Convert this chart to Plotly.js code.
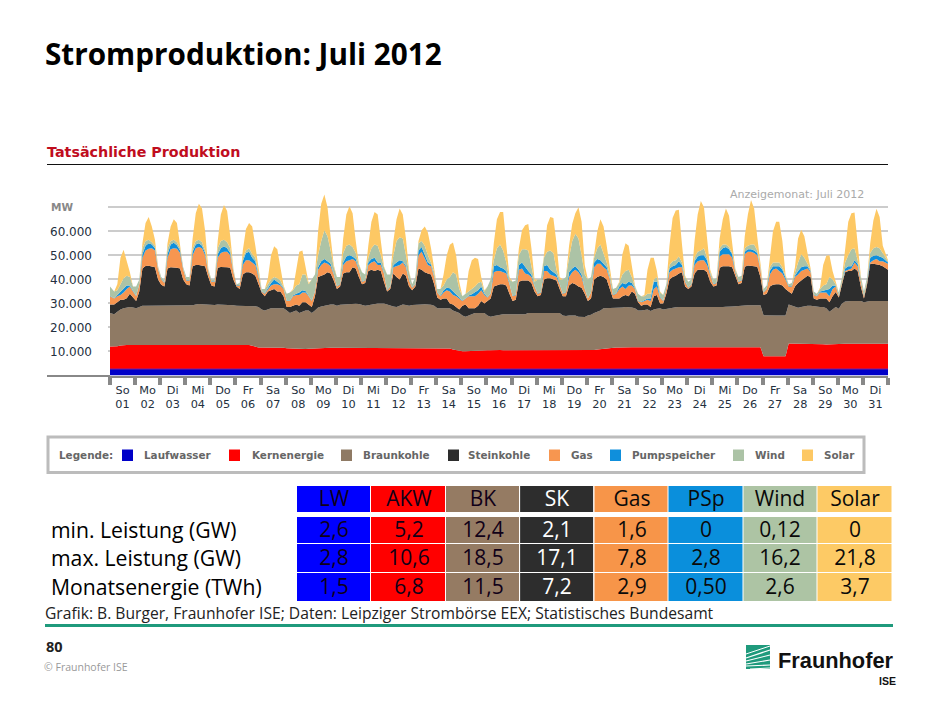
<!DOCTYPE html>
<html><head><meta charset="utf-8">
<script src="https://cdn.plot.ly/plotly-3.0.1.min.js"></script>
<style>html,body{margin:0;padding:0;background:#fff}#c{width:933px;height:702px}</style>
</head><body><div id="c"></div>
<script>
// Upper edge of each source in the stack, GW, read at 01,04,07,10,13,16,19,22 h for each of the 31 days
const topLW=[
2.7,2.7,2.7,2.7,2.7,2.7,2.7,2.7, 2.7,2.7,2.7,2.7,2.7,2.7,2.7,2.7, 2.7,2.7,2.7,2.7,2.7,2.7,2.7,2.7, 2.7,2.7,2.7,2.8,2.8,2.7,2.7,2.7, 2.7,2.7,2.7,2.7,2.7,2.7,2.7,2.7,
2.7,2.7,2.7,2.7,2.7,2.7,2.7,2.7, 2.7,2.7,2.7,2.7,2.7,2.7,2.7,2.7, 2.7,2.7,2.7,2.7,2.7,2.7,2.7,2.7, 2.7,2.7,2.7,2.7,2.7,2.7,2.7,2.7, 2.7,2.7,2.7,2.7,2.7,2.7,2.7,2.7,
2.7,2.7,2.7,2.7,2.7,2.7,2.7,2.7, 2.7,2.7,2.7,2.7,2.7,2.7,2.7,2.7, 2.7,2.7,2.7,2.7,2.7,2.7,2.7,2.7, 2.7,2.7,2.7,2.7,2.7,2.7,2.7,2.7, 2.6,2.6,2.7,2.7,2.7,2.7,2.7,2.7,
2.7,2.7,2.7,2.7,2.7,2.7,2.7,2.7, 2.7,2.7,2.7,2.7,2.7,2.7,2.7,2.7, 2.7,2.7,2.7,2.7,2.7,2.7,2.7,2.7, 2.7,2.7,2.7,2.7,2.7,2.7,2.7,2.7, 2.7,2.7,2.7,2.7,2.7,2.7,2.7,2.7,
2.7,2.7,2.7,2.7,2.7,2.7,2.7,2.7, 2.7,2.7,2.7,2.7,2.7,2.7,2.7,2.7, 2.7,2.7,2.7,2.7,2.7,2.7,2.7,2.7, 2.7,2.7,2.7,2.7,2.7,2.7,2.7,2.7, 2.7,2.7,2.7,2.7,2.7,2.7,2.7,2.7,
2.7,2.7,2.7,2.7,2.7,2.7,2.7,2.7, 2.7,2.7,2.7,2.7,2.7,2.7,2.7,2.7, 2.7,2.7,2.7,2.7,2.7,2.7,2.7,2.7, 2.7,2.7,2.7,2.7,2.7,2.7,2.7,2.7, 2.7,2.7,2.7,2.7,2.7,2.7,2.7,2.7,
2.7,2.7,2.7,2.7,2.7,2.7,2.7,2.7];
const topAKW=[
12.1,12.1,12.2,12.5,12.7,12.7,12.7,12.7, 12.7,12.8,12.8,12.9,12.9,12.9,12.8,12.8, 12.7,12.7,12.7,12.7,12.7,12.7,12.7,12.7, 12.7,12.7,12.7,12.7,12.7,12.7,12.7,12.7, 12.7,12.7,12.7,12.7,12.7,12.7,12.7,12.7,
12.7,12.7,12.7,12.7,12.7,12.4,11.9,11.7, 11.7,11.7,11.6,11.6,11.5,11.6,11.6,11.5, 11.3,11.2,11.2,11.1,10.9,11.0,11.0,11.1, 11.2,11.2,11.2,11.3,11.4,11.5,11.5,11.5, 11.5,11.5,11.5,11.5,11.5,11.5,11.5,11.5,
11.5,11.5,11.5,11.5,11.5,11.5,11.5,11.5, 11.5,11.4,11.4,11.4,11.5,11.5,11.5,11.4, 11.5,11.5,11.4,11.5,11.5,11.5,11.5,11.5, 11.5,11.5,11.5,11.5,11.2,10.8,10.5,10.4, 10.1,10.1,10.2,10.3,10.4,10.4,10.4,10.4,
10.5,10.5,10.6,10.6,10.6,10.5,10.5,10.5, 10.4,10.5,10.5,10.6,10.6,10.6,10.6,10.6, 10.5,10.5,10.5,10.5,10.5,10.5,10.5,10.5, 10.5,10.5,10.5,10.5,10.5,10.5,10.5,10.5, 10.5,10.5,10.6,10.8,11.0,11.2,11.4,11.5,
11.6,11.7,11.7,11.8,11.8,11.8,11.8,11.8, 11.8,11.8,11.7,11.7,11.8,11.8,11.8,11.8, 11.8,11.8,11.8,11.8,11.8,11.8,11.8,11.8, 11.8,11.7,11.7,11.7,11.7,11.7,11.7,11.7, 11.7,11.8,11.8,11.8,11.8,11.8,11.8,11.8,
11.8,11.8,11.8,11.8,11.8,11.8,11.8,11.8, 8.0,8.0,8.0,8.0,8.0,8.0,8.0,8.0, 13.3,13.3,13.3,13.3,13.3,13.3,13.3,13.3, 13.3,13.3,13.2,13.0,12.9,13.0,13.1,13.2, 13.2,13.2,13.2,13.2,13.2,13.2,13.2,13.2,
13.2,13.2,13.2,13.2,13.2,13.2,13.2,13.2];
const topBK=[
26,25.5,26.5,27.5,28,28.3,28.5,28.3, 28,28.5,29,29,29,29,29,29, 29,29,29,29,29,29,29,29, 29,29,29.2,29.5,29.8,29.7,29.6,29.5, 29.2,29.3,29.5,29.5,29.5,29.5,29.4,29.2,
29,29,29,29,29,29,28.8,28.5, 27.5,27,27.5,28,28,28,28,28, 27,26,26.5,27,26,26.5,27,27, 26,27,28.3,28.7,29,29.3,29.5,29.5, 29,29.4,29.5,29.8,30,30,29.9,29.8,
29.3,29,29.2,29.5,29.7,30,30,30, 29.5,29,28.7,28.5,29,29.5,29.3,29, 29.3,29.3,29.4,29.5,29.7,29.7,29.4,29, 28,28,28,28,28,27,26.5,26, 25,24.5,25,25.5,26,26,26,26,
25,24.5,24.8,25,25.5,25.5,25.5,25.5, 25.5,25.3,25.4,25.5,25.5,26,26,26, 26,26.2,26.2,26.2,26.3,26.3,26.2,26, 25,24.8,25,25,25,24.5,24.4,24.3, 25,25.3,26,26.5,27,28,28,28,
28.3,28.3,28.3,28.3,28.5,28.5,28.3,28, 27,27,27.3,27.5,26.8,27.5,27.8,28, 27.5,27.8,28.1,28.3,28.4,28.5,28.5,28.5, 28.5,28.4,28.3,28.3,28.3,28.2,28.2,28.3, 28.5,28.5,28.5,28.5,28.6,28.5,28.7,28.8,
29,29,29.1,29.2,29.2,29.2,29.2,29.2, 25.1,25,25,25,25,25,25,25, 29.5,29,28.5,28.2,28.5,28.8,29,29, 28.8,28.5,28.5,28.5,28,26.5,27.5,28.5, 27.8,30,30.8,31,31,31,31,31,
30.5,30.8,31,31,31,31,31,31];
const topSK=[
29.5,29.5,30.5,31.5,31.5,32.2,34,32.5, 31,35,44.5,45.6,45.7,45.4,45,40, 37.8,37,44.5,45,45,44.8,44.5,40, 38,37.5,45.5,46,46,45.8,45.5,41, 37.5,37,44.8,45.2,45.2,45,44.8,40,
37,36,42,43,43,42.5,41.5,38, 34.5,33,35,35.5,36,35,35,33, 28.5,28.5,29,29.5,29,30.5,30.5,29.5, 28.5,33,41,41.5,42,43,42.5,39.5, 36,37,42.5,43,43,45,44.5,41,
38,38.5,43.5,44,43.5,44,43.5,39, 35,36,42.5,41,40,42.5,41.5,37, 35.5,37,44.5,44,43,42.5,42,38, 32.5,31.5,32,32,30,29.5,28.5,27.5, 29,29.5,28,28,28,29,31,30,
31,32,37,37.5,38,38,37.5,34, 31,31.5,39,39.5,39.5,39.5,38.5,35, 33,33.5,40,40.5,40.5,40,39.5,36, 33,33,37.5,38.5,38,37,36.5,34, 31,32,40,41,41.5,41,40,36,
32,32,32,33,33.5,33,35,34, 30.5,29,29.5,29.5,28.5,33,33.5,30, 30,34,40,41,41.5,42.5,43,37, 36,37,42.5,44,44,44,43,39, 37,37.5,44.8,45.5,45.5,45.5,45,41,
38,38.5,45.3,45.8,45.8,45.5,45.3,41, 33.5,34,37,37.8,38,38,37.5,36, 35,34,37,38.5,39.5,40.5,41.5,41, 32,31.5,32,32,32,30.5,33,34.7, 32.5,38,43,43.5,43.5,44.5,43.5,37,
32,38,46.5,46.5,46.3,46,45.5,44];
const topGas=[
33,32,33,33.5,34.5,36,37,35, 33,38,49,52,52.8,53,52,44, 40,38.5,49,52.5,53,52.8,51,44, 39.5,39.5,50,53,53.5,53,50,43, 39,39,49,51,51.5,51.5,50,43,
37.5,37.5,46,48,48,47,46,41, 35,34,36,37.5,38,38,37.5,36, 31,31,33,33.5,33.5,34.5,34.5,33, 31,35,44,46,47,46.5,45.5,42, 37,38,46,47.5,48,48.5,47.5,44,
39,39.5,46,47,47.5,46,46,42.5, 35.5,37,45,45.5,46,47,45,39.5, 36.5,38,50,51.5,49,46,45.5,41, 34.5,33,34.5,35.5,35,33.5,33,32, 31,32,33,33,33,34,35.5,33.5,
32.5,34,43,43.5,43.5,43,42.5,38, 33,33.5,44,44.5,42.5,42,41,37, 34,34.5,43.5,43.5,42,41.5,41,38, 34,34.5,41,43,44,43,41,36, 32,34.5,45,46.5,46.5,45,44,40,
33.5,34,36,37,36,37.5,37.5,36, 31,30.5,31,31.5,31,36,37,32.5, 31,36,43,44,44.5,45,45,39, 36.5,38,46,47.5,48,48,46,42, 38,38.5,49.5,50.5,50.5,50.5,49,43,
39,39.5,50.5,51.5,51.5,51,50,44, 34.5,36,42,44,44.5,43.5,42.5,40, 37,37,41,42,43.5,44,44.5,43, 33.5,33,34.5,34.5,34.5,33,36,37, 33,39,43.5,44,44.5,47,45.5,39,
33,39,47,48,48.5,47.5,47.5,46.5];
const topPSp=[
33.2,32.2,33.5,34.8,36,37.5,37.5,35.2, 33.2,38.2,50.5,54,55,54.5,53,44.2, 40.2,38.7,50.5,54.5,55.2,54.2,52,44.2, 39.7,39.7,51.5,54.5,55,54,51,43.2, 39.2,39.2,50.5,53,53.8,53,51,43.2,
37.7,37.7,47.5,51,51.5,49,47.5,41.5, 35.2,34.2,36.5,38.5,40,39,38,36.3, 31.2,31.2,33.3,34,34.5,35.5,35.2,33.2, 31.2,35.2,45,47.5,48.5,47.5,46.5,42.3, 37.2,38.2,47,49.5,50,49.5,48.5,44.3,
39.2,39.7,47,48.5,49,47,47,42.8, 35.7,37.2,46,47,48,47.5,45.7,39.8, 36.7,38.2,52,53.5,50.5,47,46.2,41.3, 34.7,33.2,35.5,36.5,36.3,35,34,32.3, 31.2,32.2,33.3,33.8,34.5,35.5,37,34,
32.7,34.2,45.5,46,45,44.5,43.5,38.3, 33.2,33.7,46,47,45,43.5,42,37.3, 34.2,34.7,45.5,46,44,43,42,38.3, 34.2,34.7,43,44.5,45.5,44,42,36.3, 32.2,34.7,47,48.5,48,46.5,45,40.3,
33.7,34.2,37,38.5,38,39,38.5,36.3, 31.2,30.7,31.2,32,32,39,39,32.8, 31.2,36.2,44.5,45.5,46,47.5,46,39.3, 36.7,38.2,47.5,49.5,50,50,48,42.3, 38.2,38.7,51.5,53,53.5,52.5,50.5,43.3,
39.2,39.7,51.5,52.5,52.5,52,51,44.3, 34.7,36.2,43.5,45.5,45.5,45.5,44,40.3, 37.2,37.2,41.5,43.5,45,45.5,45.5,43.3, 33.7,33.2,35,35.3,35.5,36,37.5,37.3, 33.2,39.2,44.5,45.5,45.5,48,46.5,39.3,
33.2,39.2,49,49.8,50,49.5,49,47];
const topWind=[
37,35,35.5,38,40.5,41.5,41,37, 37,40,53,56,56.5,55.5,54,45, 41,39.5,53,56,56.5,55.5,53,45, 41,41,53,56,56.5,55.5,52,44, 40,40,53,56,56.5,55.5,53,44,
38,38.5,49,52,53,50.5,49,43, 36,36,38,40,41,40.5,39.5,37, 34,34.5,35.5,37.5,38,42,42,38, 40,42,50,56,60.5,58,52,45, 41,41,51,54,54.5,53.5,51,46,
43,42,49,53,54.5,54,50,45, 42,42,50,56,57.5,57,50,43, 38,41,55,56,54,50,47,43, 36,36,37.5,40,41,43,42,36, 33,34,35,36,37,38.5,39,35,
37,40,48,53,54.5,52,47,40, 39,39.5,50,52.5,52.5,52,45,39, 40,40,49,51.5,52,51,44,40, 40,41,49,56,59,57,50,42, 40,41,49,53,54.5,51,47,42,
36,36.5,38.5,42,43.5,44,41,37, 34,33,33,34,34,40,41,34.5, 33.5,38,46,47.5,48,49.5,47,41, 39,40,49,51.5,52,53,49,43, 40,40.5,53,54.5,54.5,53.5,51,44,
41,41.5,53,54,54.5,54.5,52,45, 36,37.5,45,47,47,47,45,41.5, 38,38.5,43,47,50.5,49,46.5,44, 35,34,36,37.5,38,41,40,38, 34.5,41,47,50,52.5,53,48,41,
35,41,51,53,53.5,53,51,47.5];
const topSolar=[
37,35,38,49,52.3,47.5,43,37, 37,40,55,63.5,66,62,56.5,45.5, 41,39.5,55,62,65,63.5,55,45, 41,41,57,67.5,71.5,69.5,60,44.5, 40,40,56,67,71,68.5,58,44.5,
38,38.5,52,61,63.5,62,54,44, 36,36,40.5,50,53.8,52.5,44.5,37.5, 34,34.5,36,44,51.5,52,45.5,38.5, 40,42,60,71.5,75.3,70,57.5,46, 41,41,57,67,70.4,67.5,56,46.5,
43,42,54,64,68,67,56,45.5, 42,42,56,65,69.5,67,57,43.5, 38,41,56,60.5,62,59.5,53,43.5, 36,36,42,50,54.4,55.4,50,39, 33,34,43.5,48,49,48.5,41,35.5,
37,40,55,65,68,68,55,41, 39,39.5,53,60.5,62.5,63,53,40, 40,40,50,62.5,66,65.5,55,41, 40,41,54,63,67.5,70,64,46, 40,41,50.5,60,65,62,54,44,
36,36.5,39,50.5,55,54,45,37.5, 34,33,33.5,44,49,49,43.5,35, 33.5,38,54,65.5,68.7,69,54.5,41.5, 39,40,56,67,72.6,70,57,44, 40,40.5,57,65,69.5,66.5,55,44.5,
41,41.5,58,67,73,69.5,57.5,45.5, 36,37.5,49,60,64,64,56,42, 38,38.5,45,57,60.7,58,51,44.5, 35,34,36.5,46,49.8,50,43.5,38.5, 34.5,41,54,64,67.5,67.8,54.8,41.5,
35,41,55,64.5,69.4,66,54,48];

const weekdays=["So","Mo","Di","Mi","Do","Fr","Sa","So","Mo","Di","Mi","Do","Fr","Sa","So","Mo","Di","Mi","Do","Fr","Sa","So","Mo","Di","Mi","Do","Fr","Sa","So","Mo","Di"];
const dayNumbers=["01","02","03","04","05","06","07","08","09","10","11","12","13","14","15","16","17","18","19","20","21","22","23","24","25","26","27","28","29","30","31"];
const sampleHours=[1,4,7,10,13,16,19,22];
const yTickValues=[10,20,30,40,50,60,70];
const yTickLabels=["10.000","20.000","30.000","40.000","50.000","60.000",""];

const sourceNames=["Laufwasser","Kernenergie","Braunkohle","Steinkohle","Gas","Pumpspeicher","Wind","Solar"];
const sourceColors=["#0000c8","#ff0000","#8f7a64","#2d2d2d","#f79650","#0f8fdc","#acc3a6","#fdc864"];
const tableColors=["#0000ff","#ff0000","#957b63","#2d2d2d","#f79549","#0a8fdc","#adc4a4","#fdca65"];
const shortNames=["LW","AKW","BK","SK","Gas","PSp","Wind","Solar"];
const minPower=["2,6","5,2","12,4","2,1","1,6","0","0,12","0"];
const maxPower=["2,8","10,6","18,5","17,1","7,8","2,8","16,2","21,8"];
const monthlyEnergy=["1,5","6,8","11,5","7,2","2,9","0,50","2,6","3,7"];
const rowLabels=["min. Leistung (GW)","max. Leistung (GW)","Monatsenergie (TWh)"];

// legend layout, page pixels
const legendSwatchX=[122,229,341,448,549,610,733,802];
const legendLabelX=[144,251.5,362.5,468.5,571,632,755,824];

const px=x=>x/933, py=y=>1-y/702;
const x=[];
for(let d=0;d<31;d++)for(const h of sampleHours)x.push(d+h/24);
x[0]=0;x[x.length-1]=31;

const tops=[topLW,topAKW,topBK,topSK,topGas,topPSp,topWind,topSolar];
const traces=tops.map((t,i)=>({
  type:'scatter',mode:'lines',x:x,y:t,name:sourceNames[i],
  fill:i===0?'tozeroy':'tonexty',fillcolor:sourceColors[i],
  line:{width:i===0?1:0,color:i===0?'#7a20a0':sourceColors[i]},
  showlegend:false,hoverinfo:'skip'
}));
// day labels sit mid-day on their own overlaying axis
traces.push({type:'scatter',mode:'markers',x:[0.5],y:[0],xaxis:'x2',yaxis:'y',marker:{opacity:0},showlegend:false,hoverinfo:'skip'});

// table as a heatmap: one colour per column
const rowEdges=[0,26,31,57,58,86,87,115];
const tableRows=[shortNames,null,minPower,null,maxPower,null,monthlyEnergy];
const scale=tableColors.map((c,i)=>[i/7,c]);
function tableTrace(cols,color){
  const xe=[cols[0]].concat(cols.map(c=>c+1));
  const z=tableRows.map(r=>cols.map(c=>r?c:null));
  const text=tableRows.map(r=>cols.map(c=>r?r[c]:''));
  return {type:'heatmap',x:xe,y:rowEdges,z:z,text:text,texttemplate:'%{text}',
    textfont:{family:'Open Sans',size:21,color:color},
    colorscale:scale,zmin:0,zmax:7,showscale:false,xgap:1,ygap:0,hoverinfo:'skip',
    xaxis:'x3',yaxis:'y3'};
}
traces.push(tableTrace([0,1,2],'#100018'));
traces.push(tableTrace([3],'#ffffff'));
traces.push(tableTrace([4,5,6,7],'#0a0a0a'));

const annotations=[];
function label(text,xp,yp,size,color,family){
  annotations.push({text:text,xref:'paper',yref:'paper',x:px(xp-1),y:py(yp),xanchor:'left',yanchor:'middle',
    showarrow:false,align:'left',borderpad:0,font:{size:size,color:color,family:family}});
}
const OS='Open Sans',DJ='DejaVu Sans',LS='Liberation Sans';
label('<b>Stromproduktion: Juli 2012</b>',45,54,29.7,'#000',OS);
label('<b>Tatsächliche Produktion</b>',47,152,14.3,'#c00d1e',DJ);
label('Anzeigemonat: Juli 2012',730,194,11,'#aaaaaa',DJ);
label('<b>MW</b>',51,207,10.5,'#888888',DJ);
label('<b>Legende:</b>',59,455,10.4,'#666666',DJ);
sourceNames.forEach((n,i)=>label('<b>'+n+'</b>',legendLabelX[i],455,10.4,'#666666',DJ));
const rowY=[529,557,586];
rowLabels.forEach((t,i)=>label(t,51,rowY[i],21.2,'#000',OS));
label('Grafik: B. Burger, Fraunhofer ISE; Daten: Leipziger Strombörse EEX; Statistisches Bundesamt',45,613,15.65,'#222',OS);
label('<b>80</b>',46,646,14.5,'#222',OS);
label('© Fraunhofer ISE',44,667,10.5,'#999999',OS);
label('<b>Fraunhofer</b>',778,660,21.8,'#111',LS);
label('<b>ISE</b>',879,681,10.5,'#111',LS);

const shapes=[];
function rectPx(x0,y0,x1,y1,fill,lineColor,lw){
  shapes.push({type:'rect',xref:'paper',yref:'paper',x0:px(x0),x1:px(x1),y0:py(y0),y1:py(y1),
    fillcolor:fill,line:{color:lineColor||fill,width:lw||0},layer:'below'});
}
function linePx(x0,y0,x1,y1,color,w,layer){
  shapes.push({type:'line',xref:'paper',yref:'paper',x0:px(x0),x1:px(x1),y0:py(y0),y1:py(y1),
    line:{color:color,width:w},layer:layer||'above'});
}
linePx(47,164.5,888,164.5,'#111111',1);
linePx(47,376,110,376,'#888888',2);
rectPx(48,437,864,472.5,'#ffffff','#bcbcbc',3);
sourceColors.forEach((c,i)=>rectPx(legendSwatchX[i],449.5,legendSwatchX[i]+11,461,c));
linePx(45,625.5,893,625.5,'#1f9a7c',3);
// logo mark
rectPx(746,645,770,669,'#1f9a7c');
[[746,654,770,646,1],[746,658,770,650,1.2],[746,661,770,655,1.2],[746,664,770,660,1.2],[746,666,770,665,1.2],[750,669,770,668,1]]
  .forEach(l=>linePx(l[0],l[1],l[2],l[3],'#ffffff',l[4]));

const dayTicks=[];for(let d=0;d<=31;d++)dayTicks.push(d);
const midTicks=dayTicks.slice(0,31).map(d=>d+0.5);
const xRange=[-2/25.1,31];
const layout={
  width:933,height:702,margin:{l:0,r:0,t:0,b:0,pad:0},paper_bgcolor:'#fff',plot_bgcolor:'rgba(0,0,0,0)',
  showlegend:false,font:{family:DJ},
  xaxis:{domain:[px(108),px(888)],range:xRange,tickmode:'array',tickvals:dayTicks,ticktext:dayTicks.map(()=>''),
    ticks:'outside',ticklen:7,tickwidth:4,tickcolor:'#888888',showgrid:false,zeroline:false,showline:true,linecolor:'#888888',linewidth:2,anchor:'y',fixedrange:true},
  xaxis2:{domain:[px(108),px(888)],range:xRange,overlaying:'x',anchor:'y',side:'bottom',tickmode:'array',tickvals:midTicks,
    ticktext:weekdays.map((w,i)=>w+'<br>'+dayNumbers[i]),ticks:'',showgrid:false,zeroline:false,showline:false,
    tickfont:{family:DJ,size:11.3,color:'#243040'},ticklabelstandoff:6,fixedrange:true},
  yaxis:{domain:[py(375.5),py(190)],range:[0,77.2],tickmode:'array',tickvals:yTickValues,ticktext:yTickLabels,
    showgrid:true,gridcolor:'#cccccc',gridwidth:1.5,zeroline:false,showline:false,ticks:'',ticklabelstandoff:15,
    tickfont:{family:DJ,size:12,color:'#243040'},anchor:'x',fixedrange:true},
  xaxis3:{domain:[px(297),px(892)],range:[0,8],visible:false,anchor:'y3',fixedrange:true},
  yaxis3:{domain:[py(601),py(486)],range:[115,0],visible:false,anchor:'x3',fixedrange:true},
  annotations:annotations,shapes:shapes
};
Plotly.newPlot('c',traces,layout,{displayModeBar:false,responsive:false});
</script></body></html>
